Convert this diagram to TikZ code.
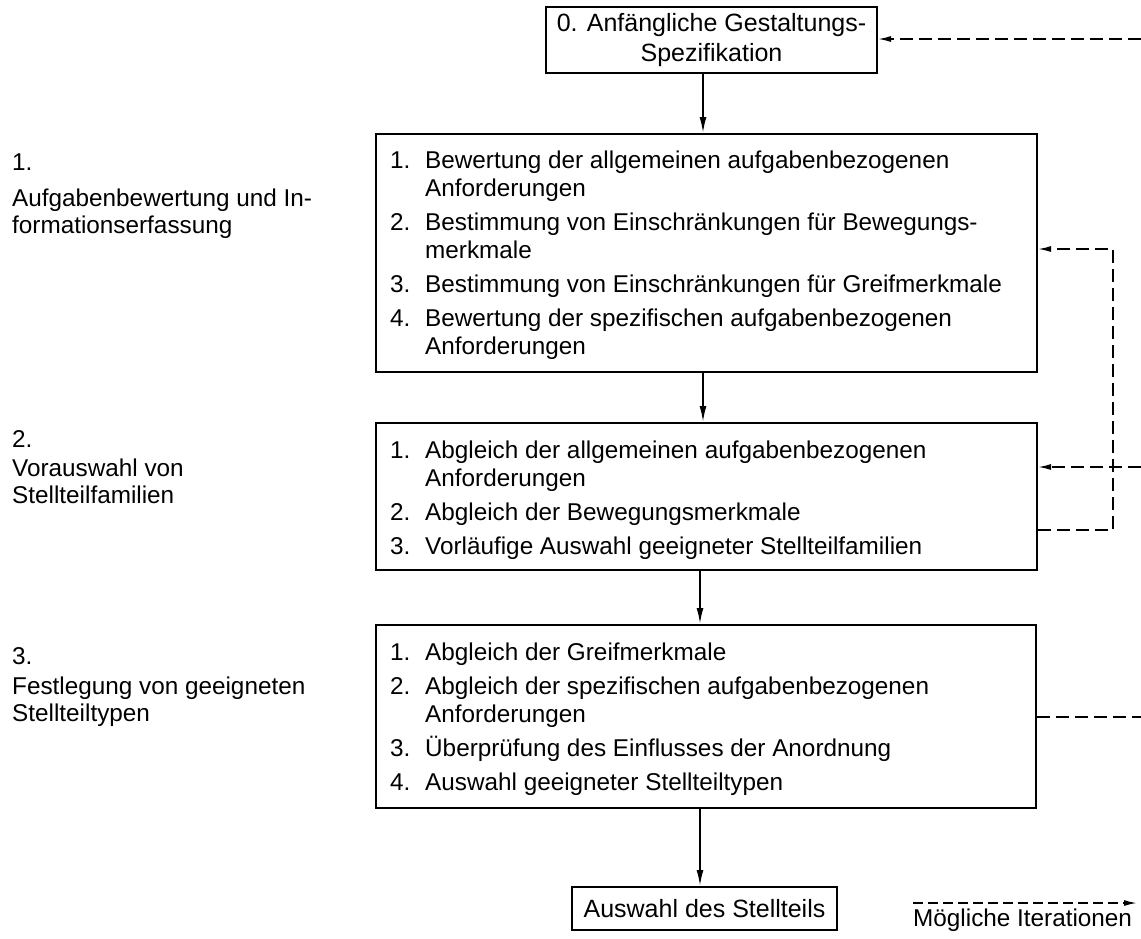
\documentclass[tikz,border=0pt]{standalone}
\usepackage{fontspec}
\setmainfont{Liberation Sans}
\usetikzlibrary{arrows.meta}
\begin{document}
\begin{tikzpicture}[x=1pt,y=-1pt,
  txt/.style={anchor=base west, inner sep=0pt, font=\fontsize{24.3}{28}\selectfont},
  boxnode/.style={draw, line width=2pt, inner sep=0pt, font=\fontsize{25}{30}\selectfont, align=center},
  conn/.style={line width=1.8pt, -{Latex[length=16pt,width=7pt]}},
  iter/.style={line width=1.6pt, dash pattern=on 13pt off 6pt},
  itertip/.style={-{Latex[length=13pt,width=6pt]}}]
\useasboundingbox (0,0) rectangle (1141,938);

% boxes
\node[boxnode, minimum width=331pt, minimum height=66pt] (b0) at (711.5,40) {0. Anfängliche Gestaltungs-\\Spezifikation};
\node[boxnode, minimum width=661pt, minimum height=238pt] (b1) at (706.5,253) {};
\node[boxnode, minimum width=661pt, minimum height=147pt] (b2) at (706.5,496.5) {};
\node[boxnode, minimum width=660pt, minimum height=183pt] (b3) at (706,716.5) {};
\node[boxnode, minimum width=265pt, minimum height=43pt] (b4) at (704.5,908.5) {Auswahl des Stellteils};

% left labels
\node[txt] (l1a) at (12,170) {1.};
\node[txt] (l1b) at (12,206) {Aufgabenbewertung und In-};
\node[txt] (l1c) at (12,233) {formationserfassung};
\node[txt] (l2a) at (12,447) {2.};
\node[txt] (l2b) at (12,476) {Vorauswahl von};
\node[txt] (l2c) at (12,503) {Stellteilfamilien};
\node[txt] (l3a) at (12,664) {3.};
\node[txt] (l3b) at (12,694) {Festlegung von geeigneten};
\node[txt] (l3c) at (12,721) {Stellteiltypen};

% box 1 text
\node[txt] (n11) at (390,168) {1.};
\node[txt] (t11) at (425,168) {Bewertung der allgemeinen aufgabenbezogenen};
\node[txt] (t11b) at (425,196) {Anforderungen};
\node[txt] (n12) at (390,230) {2.};
\node[txt] (t12) at (425,230) {Bestimmung von Einschränkungen für Bewegungs-};
\node[txt] (t12b) at (425,258) {merkmale};
\node[txt] (n13) at (390,292) {3.};
\node[txt] (t13) at (425,292) {Bestimmung von Einschränkungen für Greifmerkmale};
\node[txt] (n14) at (390,326) {4.};
\node[txt] (t14) at (425,326) {Bewertung der spezifischen aufgabenbezogenen};
\node[txt] (t14b) at (425,354) {Anforderungen};

% box 2 text
\node[txt] (n21) at (390,458) {1.};
\node[txt] (t21) at (425,458) {Abgleich der allgemeinen aufgabenbezogenen};
\node[txt] (t21b) at (425,486) {Anforderungen};
\node[txt] (n22) at (390,520) {2.};
\node[txt] (t22) at (425,520) {Abgleich der Bewegungsmerkmale};
\node[txt] (n23) at (390,554) {3.};
\node[txt] (t23) at (425,554) {Vorläufige Auswahl geeigneter Stellteilfamilien};

% box 3 text
\node[txt] (n31) at (390,660) {1.};
\node[txt] (t31) at (425,660) {Abgleich der Greifmerkmale};
\node[txt] (n32) at (390,694) {2.};
\node[txt] (t32) at (425,694) {Abgleich der spezifischen aufgabenbezogenen};
\node[txt] (t32b) at (425,722) {Anforderungen};
\node[txt] (n33) at (390,756) {3.};
\node[txt] (t33) at (425,756) {Überprüfung des Einflusses der Anordnung};
\node[txt] (n34) at (390,790) {4.};
\node[txt] (t34) at (425,790) {Auswahl geeigneter Stellteiltypen};

% main arrows
\coordinate (ax) at (703,0);
\coordinate (ax2) at (700,0);
\draw[conn] (b0.south -| ax) -- (b1.north -| ax);
\draw[conn] (b1.south -| ax) -- (b2.north -| ax);
\draw[conn] (b2.south -| ax2) -- (b3.north -| ax2);
\draw[conn] (b3.south -| ax2) -- (b4.north -| ax2);

% iteration lines
\coordinate (e0) at (1141,39);
\draw[iter, itertip] (e0) -- (b0.east |- e0);
\coordinate (lpb) at (1113,530);
\coordinate (lpt) at (1113,249);
\draw[iter, itertip] (b2.east |- lpb) -- (lpb) -- (lpt) -- (b1.east |- lpt);
\coordinate (e2) at (1141,467);
\draw[iter, itertip] (e2) -- (b2.east |- e2);
\coordinate (e3) at (1141,717);
\draw[iter] (b3.east |- e3) -- (e3);

% legend
\coordinate (lg1) at (913,903);
\coordinate (lg2) at (1137,903);
\draw[iter, itertip, dash pattern=on 10pt off 5pt] (lg1) -- (lg2);
\node[txt] (lgt) at (913,926) {Mögliche Iterationen};
\end{tikzpicture}
\end{document}
